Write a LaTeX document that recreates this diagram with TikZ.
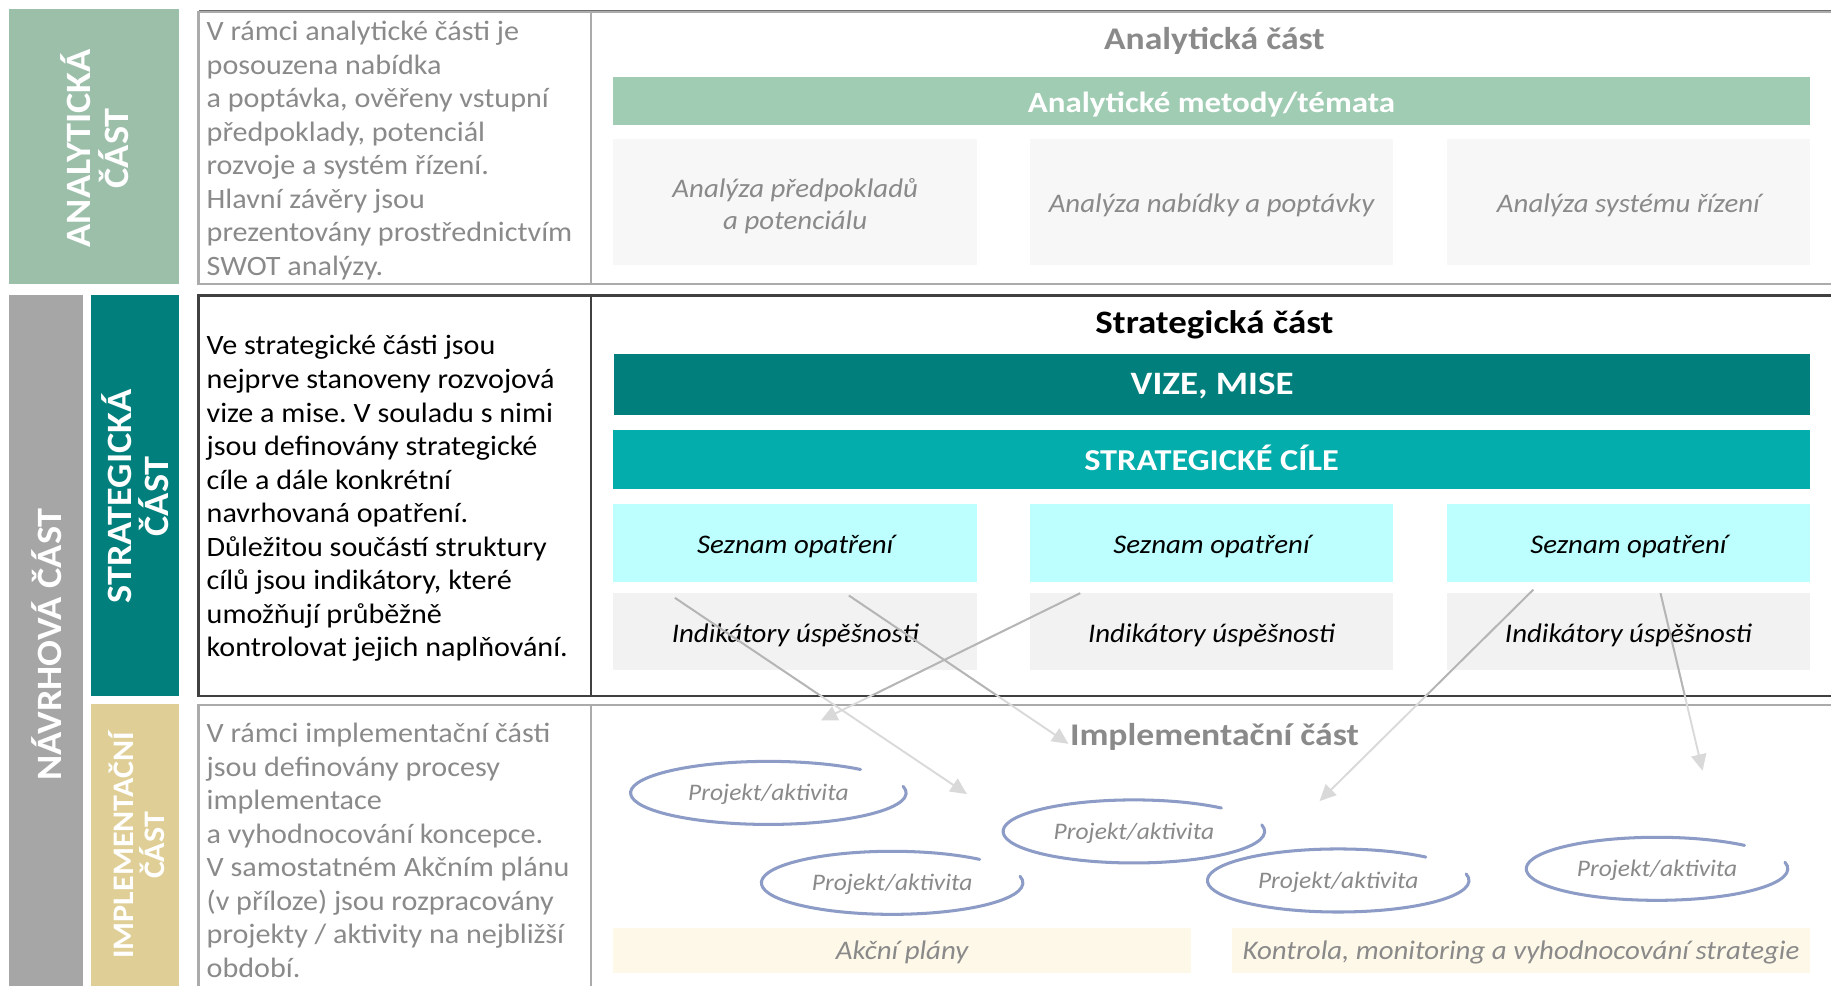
\documentclass[tikz,border=0pt]{standalone}
\usepackage{fontspec}
\setmainfont[FakeStretch=1.075]{Carlito}
\newfontfamily\boldwide[FakeStretch=1.13]{Carlito}
\usetikzlibrary{arrows.meta}
\definecolor{anaside}{HTML}{9CBFAA}
\definecolor{anabar}{HTML}{9FCCB2}
\definecolor{navgray}{HTML}{A6A6A6}
\definecolor{tealA}{HTML}{007F7C}
\definecolor{tealB}{HTML}{03ADAC}
\definecolor{cyanbox}{HTML}{BDFFFF}
\definecolor{indbox}{HTML}{F2F2F2}
\definecolor{anabox}{HTML}{F7F7F7}
\definecolor{tanside}{HTML}{DFCF97}
\definecolor{cream}{HTML}{FEF8E8}
\definecolor{loopblue}{HTML}{8C9CC6}
\definecolor{fadetext}{HTML}{8A8A8A}
\definecolor{darkline}{HTML}{404040}
\definecolor{lightline}{HTML}{ABABAB}
\definecolor{toplinec}{HTML}{707070}
\definecolor{arrfaint}{HTML}{D9D9D9}
\definecolor{arrstrong}{HTML}{B5B5B5}
\frenchspacing
\begin{document}
\begin{tikzpicture}[x=1pt,y=-1pt,
  every node/.style={inner sep=0pt, outer sep=0pt},
  blk/.style={anchor=north west},
  sidelbl/.style={text=white, align=center, font=\bfseries\fontsize{30.5}{32}\selectfont},
  bodytxt/.style={anchor=base west},
  celltxt/.style={font=\itshape\fontsize{23}{27}\selectfont},
  projtxt/.style={font=\itshape\fontsize{20.3}{24}\selectfont, text=fadetext, text height=13pt, text depth=0pt},
  headtxt/.style={font=\boldwide\bfseries\fontsize{#1}{30}\selectfont},
  handloop/.style={draw=loopblue, line width=2.6pt, line cap=round},
  faintarrow/.style={draw=arrfaint, line width=1.6pt, -{Triangle[length=14pt,width=13pt,fill=arrfaint]}},
  strongline/.style={draw=arrstrong, line width=1.6pt}
]
\useasboundingbox (0,0) rectangle (1568,844);
\fill[white] (0,0) rectangle (1568,844);

% ---- left side labels
\node[blk, fill=anaside, minimum width=145pt, minimum height=235pt] (anaSide) at (8,8) {};
\node[sidelbl, rotate=90] (anaLbl) at (81,127) {ANALYTICKÁ\\ČÁST};
\node[blk, fill=navgray, minimum width=63pt, minimum height=600pt] (navSide) at (8,253) {};
\node[sidelbl, rotate=90] (navLbl) at (40,552) {NÁVRHOVÁ ČÁST};
\node[blk, fill=tealA, minimum width=75pt, minimum height=343pt] (strSide) at (78,253) {};
\node[sidelbl, rotate=90] (strLbl) at (116,425) {STRATEGICKÁ\\ČÁST};
\node[blk, fill=tanside, minimum width=75pt, minimum height=250pt] (impSide) at (78,603) {};
\node[sidelbl, rotate=90, font=\bfseries\fontsize{25.5}{27}\selectfont] (impLbl) at (117,724) {IMPLEMENTAČNÍ\\ČÁST};

% ---- frames
\draw[lightline, line width=2pt] (1575,10) -- (170,10) -- (170,243) -- (1575,243);
\draw[lightline, line width=2pt] (506,10) -- (506,243);
\draw[toplinec, line width=1.5pt] (170,9) -- (1575,9);
\draw[darkline, line width=2.2pt] (1575,253) -- (170,253) -- (170,596) -- (1575,596);
\draw[darkline, line width=2.2pt] (506,253) -- (506,596);
\draw[lightline, line width=2pt] (1575,604) -- (170,604) -- (170,860);
\draw[lightline, line width=2pt] (506,604) -- (506,860);

% ---- left texts
\node[bodytxt, text=fadetext] (anaTxt) at (177,35) {\parbox[t]{325pt}{\fontsize{24}{28.7}\selectfont\raggedright
V rámci analytické části je\\
posouzena nabídka\\
a poptávka, ověřeny vstupní\\
předpoklady, potenciál\\
rozvoje a systém řízení.\\
Hlavní závěry jsou\\
prezentovány prostřednictvím\\
SWOT analýzy.}};
\node[bodytxt, text=black] (strTxt) at (177,304) {\parbox[t]{325pt}{\fontsize{24}{28.7}\selectfont\raggedright
Ve strategické části jsou\\
nejprve stanoveny rozvojová\\
vize a mise. V souladu s nimi\\
jsou definovány strategické\\
cíle a dále konkrétní\\
navrhovaná opatření.\\
Důležitou součástí struktury\\
cílů jsou indikátory, které\\
umožňují průběžně\\
kontrolovat jejich naplňování.}};
\node[bodytxt, text=fadetext] (impTxt) at (177,636) {\parbox[t]{325pt}{\fontsize{24}{28.7}\selectfont\raggedright
V rámci implementační části\\
jsou definovány procesy\\
implementace\\
a vyhodnocování koncepce.\\
V samostatném Akčním plánu\\
(v příloze) jsou rozpracovány\\
projekty / aktivity na nejbližší\\
období.}};

% ---- analytic part
\node[anchor=base, text=fadetext, headtxt=27] (anaTitle) at (1040,42) {Analytická část};
\node[blk, fill=anabar, minimum width=1025pt, minimum height=41pt, text=white, headtxt=25, text height=19pt, text depth=0pt] (metBar) at (525,66) {Analytické metody/témata};
\node[blk, fill=anabox, minimum width=312pt, minimum height=108pt] (ac1) at (525,119) {};
\node[text=fadetext, celltxt, align=center] (ac1txt) at (681,176.5) {Analýza předpokladů\\a potenciálu};
\node[blk, fill=anabox, minimum width=311pt, minimum height=108pt, text=fadetext, celltxt, text height=18pt, text depth=0pt] (ac2) at (882,119) {Analýza nabídky a poptávky};
\node[blk, fill=anabox, minimum width=311pt, minimum height=108pt, text=fadetext, celltxt, text height=18pt, text depth=0pt] (ac3) at (1239,119) {Analýza systému řízení};

% ---- strategic part
\node[anchor=base, text=black, headtxt=28] (strTitle) at (1040,286) {Strategická část};
\node[blk, fill=tealA, minimum width=1024pt, minimum height=52pt, text=white, headtxt=28, text height=18pt, text depth=0pt] (vize) at (526,303) {VIZE, MISE};
\node[blk, fill=tealB, minimum width=1025pt, minimum height=51pt, text=white, headtxt=26, text height=18pt, text depth=0pt] (cile) at (525,368) {STRATEGICKÉ CÍLE};
\node[blk, fill=cyanbox, minimum width=312pt, minimum height=66pt, celltxt, text height=18pt, text depth=0pt] (sz1) at (525,432) {Seznam opatření};
\node[blk, fill=cyanbox, minimum width=311pt, minimum height=66pt, celltxt, text height=18pt, text depth=0pt] (sz2) at (882,432) {Seznam opatření};
\node[blk, fill=cyanbox, minimum width=311pt, minimum height=66pt, celltxt, text height=18pt, text depth=0pt] (sz3) at (1239,432) {Seznam opatření};
\node[blk, fill=indbox, minimum width=312pt, minimum height=66pt, celltxt, text height=18pt, text depth=0pt] (in1) at (525,508) {Indikátory úspěšnosti};
\node[blk, fill=indbox, minimum width=311pt, minimum height=66pt, celltxt, text height=18pt, text depth=0pt] (in2) at (882,508) {Indikátory úspěšnosti};
\node[blk, fill=indbox, minimum width=311pt, minimum height=66pt, celltxt, text height=18pt, text depth=0pt] (in3) at (1239,508) {Indikátory úspěšnosti};

% ---- implementation part
\node[anchor=base, text=fadetext, headtxt=27] (impTitle) at (1040,638) {Implementační část};
\node[blk, fill=cream, minimum width=495pt, minimum height=38pt, text=fadetext, celltxt, text height=16pt, text depth=0pt] (akc) at (525,795) {Akční plány};
\node[blk, fill=cream, minimum width=495pt, minimum height=38pt, text=fadetext, celltxt, text height=16pt, text depth=0pt] (kon) at (1055,795) {Kontrola, monitoring a vyhodnocování strategie};

\node[projtxt] (p1) at (658,679) {Projekt/aktivita};
\node[projtxt] (p2) at (971,712) {Projekt/aktivita};
\node[projtxt] (p3) at (764,756) {Projekt/aktivita};
\node[projtxt] (p4) at (1146,754) {Projekt/aktivita};
\node[projtxt] (p5) at (1419,744) {Projekt/aktivita};
\draw[handloop] (p1.center) ++(-48:118 and 27) arc[start angle=-48, end angle=-372, x radius=118, y radius=27];
\draw[handloop] (p2.center) ++(-48:112 and 27) arc[start angle=-48, end angle=-372, x radius=112, y radius=27];
\draw[handloop] (p3.center) ++(-48:112 and 27) arc[start angle=-48, end angle=-372, x radius=112, y radius=27];
\draw[handloop] (p4.center) ++(-48:112 and 27) arc[start angle=-48, end angle=-372, x radius=112, y radius=27];
\draw[handloop] (p5.center) ++(-48:112 and 27) arc[start angle=-48, end angle=-372, x radius=112, y radius=27];

% ---- arrows
\coordinate (s1) at (578,512); \coordinate (e1) at (828,680);
\coordinate (s2) at (727,510); \coordinate (e2) at (915,637);
\coordinate (s3) at (925,508); \coordinate (e3) at (703,617);
\coordinate (s4) at (1313,505); \coordinate (e4) at (1130,686);
\coordinate (s5) at (1422,508); \coordinate (e5) at (1458,660);
\foreach \i in {1,...,5} {\draw[faintarrow] (s\i) -- (e\i);}
\begin{scope}
\clip (170,254) rectangle (1575,595);
\foreach \i in {1,...,5} {\draw[strongline] (s\i) -- (e\i);}
\end{scope}
\end{tikzpicture}
\end{document}
